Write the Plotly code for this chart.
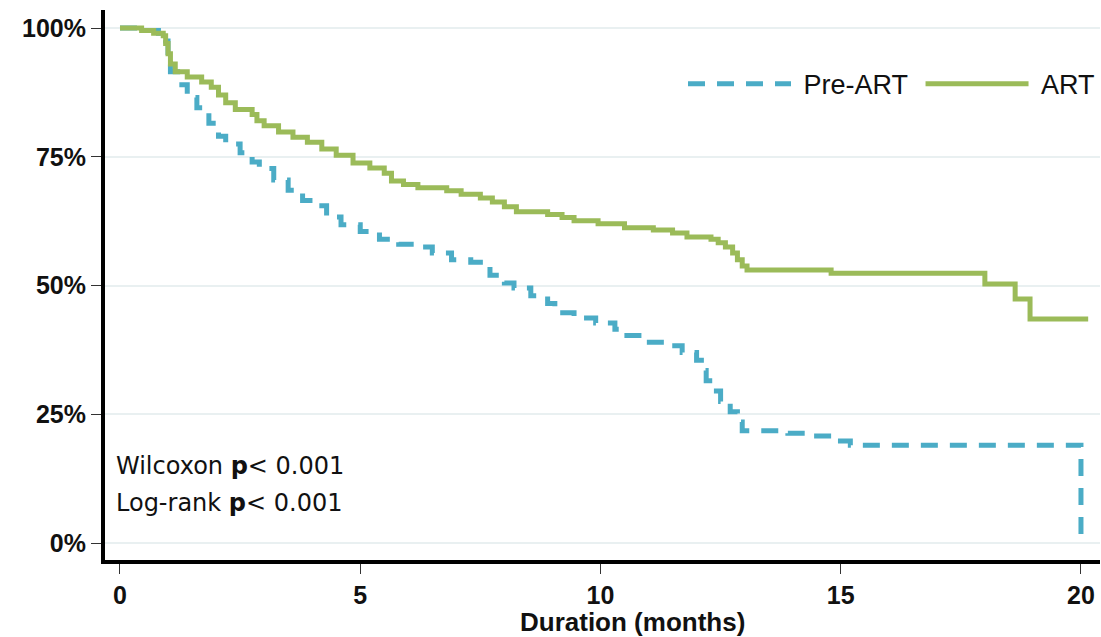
import plotly.graph_objects as go

# ---- data (months, survival %) ----
pre_art_time = [0, 0.5, 0.8, 0.95, 1.0, 1.05, 1.2, 1.4, 1.6, 1.85, 2.05, 2.2, 2.5, 2.75, 2.9,
                3.2, 3.5, 3.8, 4.1, 4.3, 4.6, 5.0, 5.4, 5.8, 6.2, 6.5, 6.9, 7.3, 7.5, 7.7,
                8.0, 8.2, 8.55, 8.9, 9.05, 9.45, 9.9, 10.3, 10.55, 10.8, 11.4, 11.7, 12.0,
                12.1, 12.2, 12.35, 12.5, 12.7, 12.85, 12.95, 13.9, 14.3, 14.8, 15.2, 20.0, 20.0]
pre_art_surv = [100, 99.5, 99, 97.5, 94, 91.5, 89, 86.5, 84.5, 81.5, 79, 77.5, 75.8, 74, 72.7,
                70.5, 68.5, 66.5, 65.5, 63.3, 61.8, 60.5, 59, 58, 57.5, 56.3, 55, 54.5, 53.6, 52,
                50.5, 49.5, 48, 46.5, 44.7, 43.7, 42.7, 41.5, 40.3, 39, 38.3, 37, 35.5,
                33.5, 31.5, 29.5, 27.5, 25.5, 23.5, 21.8, 21.3, 20.8, 19.8, 19.0, 19.0, 0]

art_time = [0, 0.45, 0.7, 0.9, 0.95, 1.0, 1.05, 1.15, 1.4, 1.7, 1.9, 2.05, 2.2, 2.4, 2.75,
            2.85, 3.0, 3.3, 3.6, 3.9, 4.2, 4.5, 4.85, 5.2, 5.5, 5.65, 5.9, 6.2, 6.8, 7.1,
            7.5, 7.75, 8.0, 8.25, 8.9, 9.2, 9.45, 9.95, 10.5, 11.1, 11.5, 11.8, 12.3, 12.45,
            12.6, 12.75, 12.85, 12.95, 13.05, 14.8, 18.0, 18.63, 18.94, 20.15]
art_surv = [100, 99.5, 99, 98.5, 97, 95, 93, 91.5, 90.5, 89.5, 88.5, 87, 85.5, 84.2, 83.2,
            82, 81, 79.8, 78.8, 77.8, 76.5, 75.3, 73.8, 72.8, 71.8, 70.3, 69.6, 69.0, 68.4, 67.7,
            67.0, 66.2, 65.3, 64.3, 63.8, 63.2, 62.6, 62.0, 61.2, 60.8, 60.2, 59.4, 59.0, 58.3,
            57.5, 56.3, 55.0, 53.8, 53.0, 52.4, 50.3, 47.4, 43.5, 43.5]

x_ticks = [0, 5, 10, 15, 20]
y_ticks = [0, 25, 50, 75, 100]
y_tick_labels = ["0%", "25%", "50%", "75%", "100%"]
stats_text = ["Wilcoxon <b>p</b>< 0.001", "Log-rank <b>p</b>< 0.001"]
stats_y = [15, 7.8]
x_title = "Duration (months)"

PRE_COLOR = "#4BACC6"
ART_COLOR = "#9BBB59"
NB = "\u00a0"

fig = go.Figure()
fig.add_trace(go.Scatter(
    x=pre_art_time, y=pre_art_surv, mode="lines", name=NB + "Pre-ART" + NB,
    line=dict(color=PRE_COLOR, width=5, dash="17px,12px", shape="hv"),
))
fig.add_trace(go.Scatter(
    x=art_time, y=art_surv, mode="lines", name=NB + "ART",
    line=dict(color=ART_COLOR, width=5, shape="hv"),
))

for t, yv in zip(stats_text, stats_y):
    fig.add_annotation(
        x=-0.12, y=yv, xref="x", yref="y", text=t, showarrow=False,
        xanchor="left", yanchor="middle",
        font=dict(family="DejaVu Sans", size=24, color="#111111"),
    )

fig.add_annotation(
    x=0.53, y=-0.113, xref="paper", yref="paper", text="<b>" + x_title + "</b>",
    showarrow=False, xanchor="center", yanchor="middle",
    font=dict(family="Arial, Liberation Sans", size=26, color="#111111"),
)

fig.update_layout(
    width=1101, height=637,
    margin=dict(l=105, r=1, t=10, b=77),
    paper_bgcolor="white", plot_bgcolor="white",
    showlegend=True,
    legend=dict(
        orientation="h", x=1.0, y=0.865, xanchor="right", yanchor="middle",
        font=dict(family="Arial, Liberation Sans", size=27, color="#111111"),
        itemwidth=103, bgcolor="rgba(0,0,0,0)", traceorder="normal",
    ),
    xaxis=dict(
        range=[-0.312, 20.396], tickvals=x_ticks,
        showgrid=False, zeroline=False,
        showline=True, linecolor="black", linewidth=4,
        ticks="outside", ticklen=10, tickwidth=1, tickcolor="#333333",
        tickfont=dict(family="Arial, Liberation Sans", size=25, color="#111111", weight="bold"),
    ),
    yaxis=dict(
        range=[-3.3, 103.5], tickvals=y_ticks, ticktext=y_tick_labels,
        showgrid=True, gridcolor="#e9f0f1", gridwidth=1.5, zeroline=False,
        showline=True, linecolor="black", linewidth=4,
        ticks="outside", ticklen=10, tickwidth=1, tickcolor="#333333",
        tickfont=dict(family="Arial, Liberation Sans", size=25, color="#111111", weight="bold"),
    ),
)

fig.write_html("out.html")
